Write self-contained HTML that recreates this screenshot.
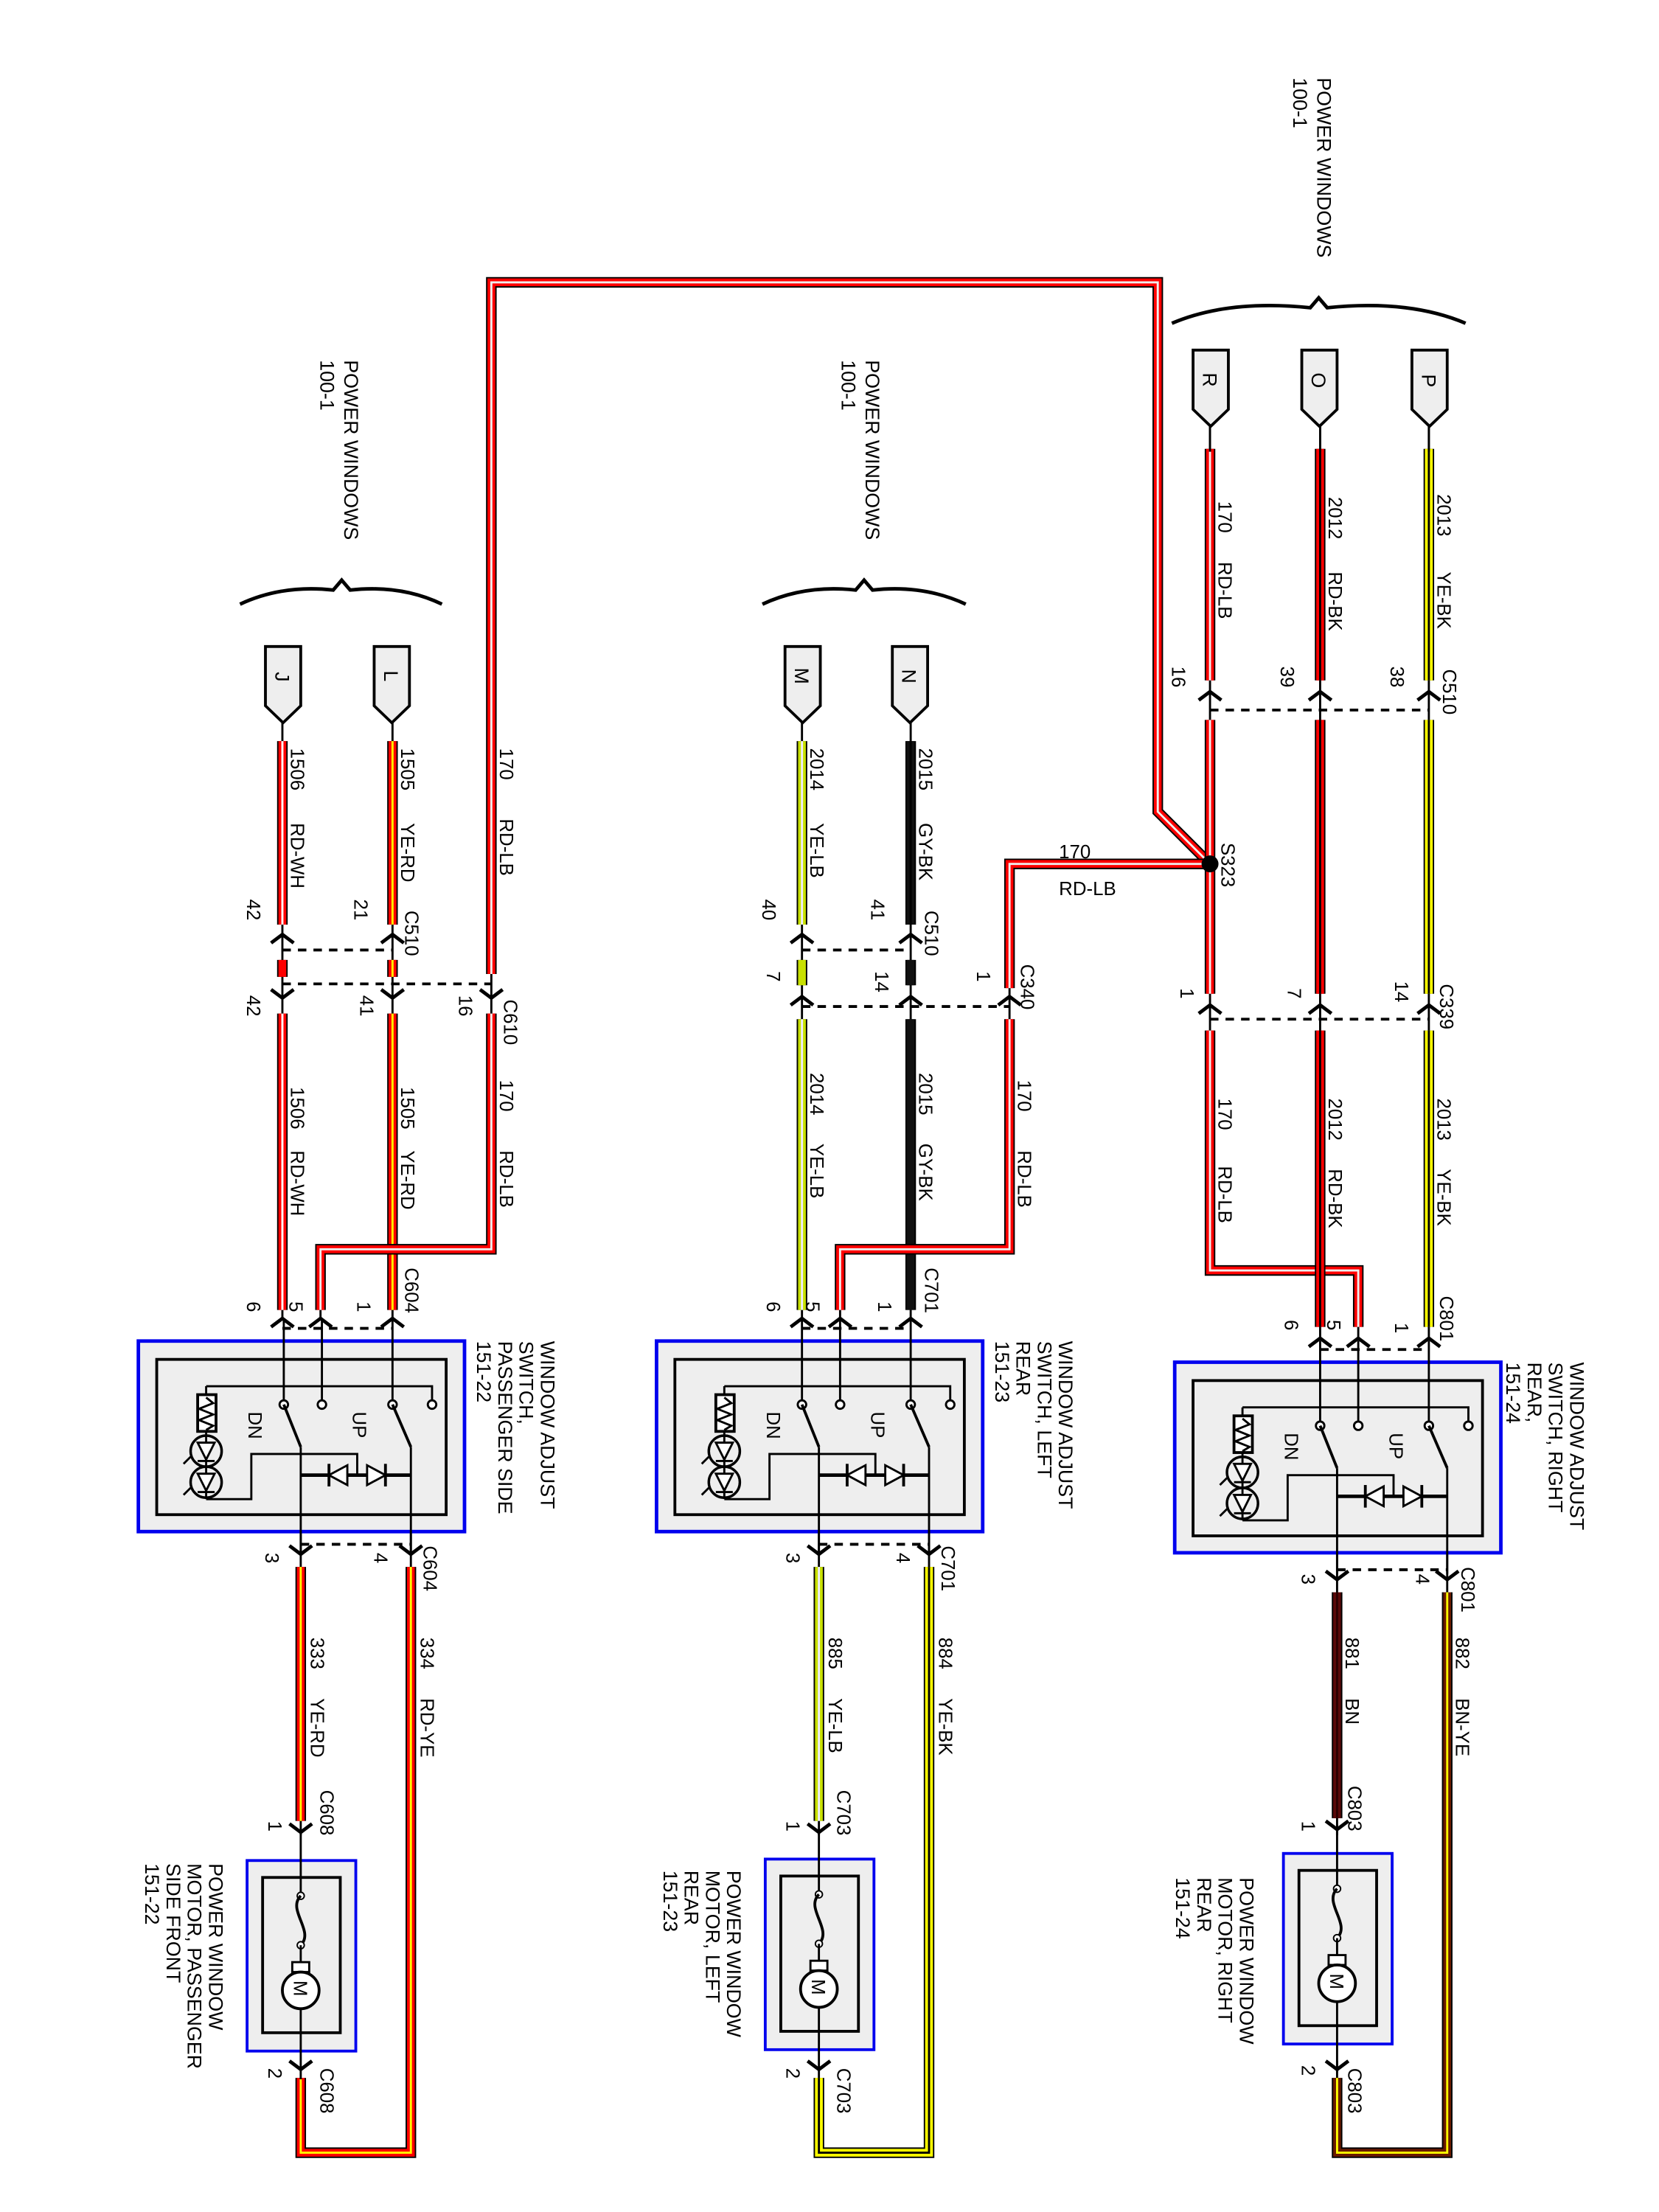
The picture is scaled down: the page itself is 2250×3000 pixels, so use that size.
<!DOCTYPE html>
<html><head><meta charset="utf-8">
<style>
html,body{margin:0;padding:0;background:#fff;}
svg{display:block;}
text{font-family:"Liberation Sans",Arial,sans-serif;font-size:13.5px;fill:#000;}
.k{stroke:#000;stroke-width:7.5;fill:none;stroke-linejoin:miter;}
.c{stroke-width:5.5;fill:none;}
.s{stroke-width:1.5;fill:none;}
.t{stroke:#000;stroke-width:1.5;fill:none;}
.d{stroke:#000;stroke-width:2;stroke-dasharray:6,5;fill:none;}
.ch{stroke:#000;stroke-width:2.5;fill:none;}
</style></head><body>
<svg width="2250" height="3000" viewBox="0 0 1175 1567" preserveAspectRatio="none" xmlns="http://www.w3.org/2000/svg">
<defs>
<g id="sw">
  <rect x="0" y="0" width="231" height="135" fill="#eee" stroke="#0000ee" stroke-width="2.5"/>
  <rect x="13" y="13" width="205" height="110" fill="none" stroke="#000" stroke-width="2"/>
  <line x1="103" y1="-15" x2="103" y2="45" class="t"/>
  <line x1="130" y1="-15" x2="130" y2="45" class="t"/>
  <line x1="180" y1="-15" x2="180" y2="45" class="t"/>
  <polyline points="48,32 208,32 208,45" class="t" stroke-width="2.5"/>
  <circle cx="103" cy="45" r="3" fill="#fff" stroke="#000" stroke-width="1.5"/>
  <circle cx="130" cy="45" r="3" fill="#fff" stroke="#000" stroke-width="1.5"/>
  <circle cx="180" cy="45" r="3" fill="#fff" stroke="#000" stroke-width="1.5"/>
  <circle cx="208" cy="45" r="3" fill="#fff" stroke="#000" stroke-width="1.5"/>
  <line x1="103" y1="45" x2="115" y2="75" stroke="#000" stroke-width="2"/>
  <line x1="180" y1="45" x2="193" y2="75" stroke="#000" stroke-width="2"/>
  <line x1="115" y1="75" x2="115" y2="150" class="t"/>
  <line x1="193" y1="75" x2="193" y2="150" class="t"/>
  <line x1="115" y1="95" x2="193" y2="95" stroke="#000" stroke-width="2.5"/>
  <polygon points="135,95 148,88 148,102" fill="#fff" stroke="#000" stroke-width="1.5"/>
  <line x1="135" y1="87" x2="135" y2="103" stroke="#000" stroke-width="2"/>
  <polygon points="175,95 162,88 162,102" fill="#fff" stroke="#000" stroke-width="1.5"/>
  <line x1="175" y1="87" x2="175" y2="103" stroke="#000" stroke-width="2"/>
  <polyline points="155,95 155,80 80,80 80,112 48,112" class="t"/>
  <line x1="48" y1="32" x2="48" y2="112" class="t"/>
  <rect x="42" y="38" width="13" height="26" fill="#fff" stroke="#000" stroke-width="2"/>
  <polyline points="48,40 53,44 43,48 53,52 43,56 53,60 48,63" stroke="#000" stroke-width="1.5" fill="none"/>
  <circle cx="48" cy="78" r="11" fill="none" stroke="#000" stroke-width="1.8"/>
  <polygon points="42,72 54,72 48,84" fill="#fff" stroke="#000" stroke-width="1.5"/>
  <line x1="42" y1="85" x2="54" y2="85" stroke="#000" stroke-width="1.5"/>
  <circle cx="48" cy="100" r="11" fill="none" stroke="#000" stroke-width="1.8"/>
  <polygon points="42,94 54,94 48,106" fill="#fff" stroke="#000" stroke-width="1.5"/>
  <line x1="42" y1="107" x2="54" y2="107" stroke="#000" stroke-width="1.5"/>
  <line x1="37" y1="82" x2="32" y2="87" stroke="#000" stroke-width="1.5"/>
  <line x1="37" y1="104" x2="32" y2="109" stroke="#000" stroke-width="1.5"/>
  <text transform="translate(78,50) rotate(90)">DN</text>
  <text transform="translate(152,50) rotate(90)">UP</text>
</g>
<g id="mo">
  <rect x="0" y="0" width="77" height="135" fill="#eee" stroke="#0000ee" stroke-width="2"/>
  <rect x="11" y="12" width="55" height="110" fill="none" stroke="#000" stroke-width="2"/>
  <line x1="38" y1="-20" x2="38" y2="25" class="t"/>
  <circle cx="38" cy="25" r="2.5" fill="#fff" stroke="#000"/>
  <path d="M38,25 C28,35 48,50 38,60" stroke="#000" stroke-width="2" fill="none"/>
  <circle cx="38" cy="60" r="2.5" fill="#fff" stroke="#000"/>
  <line x1="38" y1="60" x2="38" y2="74" class="t"/>
  <rect x="32" y="72" width="12" height="7" fill="#fff" stroke="#000" stroke-width="1.5"/>
  <circle cx="38" cy="92" r="13" fill="#fff" stroke="#000" stroke-width="2"/>
  <line x1="38" y1="105" x2="38" y2="155" class="t"/>
  <text transform="translate(33,85) rotate(90)" font-size="14">M</text>
</g>
</defs>

<!-- thin conductor lines -->
<g class="t">
<line x1="857" y1="302" x2="857" y2="735"/>
<line x1="935" y1="302" x2="935" y2="950"/>
<line x1="1012" y1="302" x2="1012" y2="950"/>
<line x1="962" y1="925" x2="962" y2="950"/>
<line x1="947" y1="1100" x2="947" y2="1300"/>
<line x1="1025" y1="1100" x2="1025" y2="1130"/>
<line x1="947" y1="1460" x2="947" y2="1475"/>
<line x1="568" y1="510" x2="568" y2="935"/>
<line x1="645" y1="510" x2="645" y2="935"/>
<line x1="715" y1="690" x2="715" y2="725"/>
<line x1="595" y1="920" x2="595" y2="935"/>
<line x1="580" y1="1085" x2="580" y2="1300"/>
<line x1="658" y1="1085" x2="658" y2="1115"/>
<line x1="200" y1="510" x2="200" y2="935"/>
<line x1="278" y1="510" x2="278" y2="935"/>
<line x1="348" y1="685" x2="348" y2="725"/>
<line x1="227" y1="920" x2="227" y2="935"/>
<line x1="213" y1="1085" x2="213" y2="1300"/>
<line x1="291" y1="1085" x2="291" y2="1115"/>
</g>

<!-- wires -->
<!-- big 170 -->
<polyline class="k" points="857,612 820,575 820,200 348,200 348,690"/>
<polyline class="c" stroke="#f00" points="857,612 820,575 820,200 348,200 348,690"/>
<polyline class="s" stroke="#eee" points="857,612 820,575 820,200 348,200 348,690"/>
<polyline class="k" points="857,612 715,612 715,700"/>
<polyline class="c" stroke="#f00" points="857,612 715,612 715,700"/>
<polyline class="s" stroke="#eee" points="857,612 715,612 715,700"/>

<!-- right column -->
<g>
<polyline class="k" points="857,318 857,482"/><polyline class="c" stroke="#f00" points="857,318 857,482"/><polyline class="s" stroke="#eee" points="857,318 857,482"/>
<polyline class="k" points="935,318 935,482"/><polyline class="c" stroke="#f00" points="935,318 935,482"/><polyline class="s" stroke="#000" points="935,318 935,482"/>
<polyline class="k" points="1012,318 1012,482"/><polyline class="c" stroke="#ff0" points="1012,318 1012,482"/><polyline class="s" stroke="#000" points="1012,318 1012,482"/>
<polyline class="k" points="857,510 857,704"/><polyline class="c" stroke="#f00" points="857,510 857,704"/><polyline class="s" stroke="#eee" points="857,510 857,704"/>
<polyline class="k" points="935,510 935,704"/><polyline class="c" stroke="#f00" points="935,510 935,704"/><polyline class="s" stroke="#000" points="935,510 935,704"/>
<polyline class="k" points="1012,510 1012,704"/><polyline class="c" stroke="#ff0" points="1012,510 1012,704"/><polyline class="s" stroke="#000" points="1012,510 1012,704"/>
<polyline class="k" points="857,730 857,900 962,900 962,940"/><polyline class="c" stroke="#f00" points="857,730 857,900 962,900 962,940"/><polyline class="s" stroke="#eee" points="857,730 857,900 962,900 962,940"/>
<polyline class="k" points="935,730 935,940"/><polyline class="c" stroke="#f00" points="935,730 935,940"/><polyline class="s" stroke="#000" points="935,730 935,940"/>
<polyline class="k" points="1012,730 1012,940"/><polyline class="c" stroke="#ff0" points="1012,730 1012,940"/><polyline class="s" stroke="#000" points="1012,730 1012,940"/>
<polyline class="k" points="947,1128 947,1288"/><polyline class="c" stroke="#5a0808" points="947,1128 947,1288"/><polyline class="s" stroke="#2a0000" points="947,1128 947,1288"/>
<polyline class="k" points="1025,1128 1025,1525 947,1525 947,1472"/><polyline class="c" stroke="#6a1a00" points="1025,1128 1025,1525 947,1525 947,1472"/><polyline class="s" stroke="#ff0" points="1025,1128 1025,1525 947,1525 947,1472"/>
</g>

<!-- middle column -->
<g>
<polyline class="k" points="568,525 568,655"/><polyline class="c" stroke="#c8e000" points="568,525 568,655"/><polyline class="s" stroke="#eef" points="568,525 568,655"/>
<polyline class="k" points="645,525 645,655"/><polyline class="c" stroke="#111" points="645,525 645,655"/><polyline class="s" stroke="#000" points="645,525 645,655"/>
<polyline class="k" points="568,680 568,698"/><polyline class="c" stroke="#c8e000" points="568,680 568,698"/>
<polyline class="k" points="645,680 645,698"/><polyline class="c" stroke="#111" points="645,680 645,698"/>
<polyline class="k" points="568,722 568,928"/><polyline class="c" stroke="#c8e000" points="568,722 568,928"/><polyline class="s" stroke="#eef" points="568,722 568,928"/>
<polyline class="k" points="645,722 645,928"/><polyline class="c" stroke="#111" points="645,722 645,928"/>
<polyline class="k" points="715,722 715,885 595,885 595,928"/><polyline class="c" stroke="#f00" points="715,722 715,885 595,885 595,928"/><polyline class="s" stroke="#eee" points="715,722 715,885 595,885 595,928"/>
<polyline class="k" points="580,1110 580,1290"/><polyline class="c" stroke="#c8e000" points="580,1110 580,1290"/><polyline class="s" stroke="#eef" points="580,1110 580,1290"/>
<polyline class="k" points="658,1110 658,1525 580,1525 580,1472"/><polyline class="c" stroke="#ff0" points="658,1110 658,1525 580,1525 580,1472"/><polyline class="s" stroke="#000" points="658,1110 658,1525 580,1525 580,1472"/>
</g>

<!-- left column -->
<g>
<polyline class="k" points="200,525 200,655"/><polyline class="c" stroke="#f00" points="200,525 200,655"/><polyline class="s" stroke="#fff" points="200,525 200,655"/>
<polyline class="k" points="278,525 278,655"/><polyline class="c" stroke="#f00" points="278,525 278,655"/><polyline class="s" stroke="#ff0" stroke-width="3" points="278,525 278,655"/>
<polyline class="k" points="200,680 200,692"/><polyline class="c" stroke="#f00" points="200,680 200,692"/>
<polyline class="k" points="278,680 278,692"/><polyline class="c" stroke="#f00" points="278,680 278,692"/><polyline class="s" stroke="#ff0" stroke-width="3" points="278,680 278,692"/>
<polyline class="k" points="200,718 200,928"/><polyline class="c" stroke="#f00" points="200,718 200,928"/><polyline class="s" stroke="#fff" points="200,718 200,928"/>
<polyline class="k" points="278,718 278,928"/><polyline class="c" stroke="#f00" points="278,718 278,928"/><polyline class="s" stroke="#ff0" stroke-width="3" points="278,718 278,928"/>
<polyline class="k" points="348,718 348,885 227,885 227,928"/><polyline class="c" stroke="#f00" points="348,718 348,885 227,885 227,928"/><polyline class="s" stroke="#eee" points="348,718 348,885 227,885 227,928"/>
<polyline class="k" points="213,1110 213,1290"/><polyline class="c" stroke="#f00" points="213,1110 213,1290"/><polyline class="s" stroke="#ff0" stroke-width="3" points="213,1110 213,1290"/>
<polyline class="k" points="291,1110 291,1525 213,1525 213,1472"/><polyline class="c" stroke="#f00" points="291,1110 291,1525 213,1525 213,1472"/><polyline class="s" stroke="#ff0" points="291,1110 291,1525 213,1525 213,1472"/>
</g>

<circle cx="857" cy="612" r="6" fill="#000"/>

<!-- switch and motor boxes -->
<use href="#sw" x="832" y="965"/>
<use href="#sw" x="465" y="950"/>
<use href="#sw" x="98" y="950"/>
<use href="#mo" x="909" y="1313"/>
<use href="#mo" x="542" y="1317"/>
<use href="#mo" x="175" y="1318"/>

<!-- dashed connector lines -->
<g class="d">
<line x1="857" y1="503" x2="1012" y2="503"/>
<line x1="857" y1="722" x2="1012" y2="722"/>
<line x1="935" y1="956" x2="1012" y2="956"/>
<line x1="947" y1="1112" x2="1025" y2="1112"/>
<line x1="568" y1="673" x2="645" y2="673"/>
<line x1="568" y1="713" x2="715" y2="713"/>
<line x1="568" y1="941" x2="645" y2="941"/>
<line x1="580" y1="1094" x2="658" y2="1094"/>
<line x1="200" y1="673" x2="278" y2="673"/>
<line x1="200" y1="697" x2="348" y2="697"/>
<line x1="200" y1="941" x2="278" y2="941"/>
<line x1="213" y1="1094" x2="291" y2="1094"/>
</g>

<!-- chevrons -->
<g class="ch">
<!-- up -->
<path d="M849,496 L857,490 L865,496 M927,496 L935,490 L943,496 M1004,496 L1012,490 L1020,496"/>
<path d="M849,718 L857,712 L865,718 M927,718 L935,712 L943,718 M1004,718 L1012,712 L1020,718"/>
<path d="M927,954 L935,948 L943,954 M954,954 L962,948 L970,954 M1004,954 L1012,948 L1020,954"/>
<path d="M560,668 L568,662 L576,668 M637,668 L645,662 L653,668"/>
<path d="M560,712 L568,706 L576,712 M637,712 L645,706 L653,712 M707,712 L715,706 L723,712"/>
<path d="M560,940 L568,934 L576,940 M587,940 L595,934 L603,940 M637,940 L645,934 L653,940"/>
<path d="M192,668 L200,662 L208,668 M270,668 L278,662 L286,668"/>
<path d="M192,940 L200,934 L208,940 M219,940 L227,934 L235,940 M270,940 L278,934 L286,940"/>
<!-- down -->
<path d="M192,701 L200,707 L208,701 M270,701 L278,707 L286,701 M340,701 L348,707 L356,701"/>
<path d="M939,1113 L947,1119 L955,1113 M1017,1113 L1025,1119 L1033,1113"/>
<path d="M572,1095 L580,1101 L588,1095 M650,1095 L658,1101 L666,1095"/>
<path d="M205,1095 L213,1101 L221,1095 M283,1095 L291,1101 L299,1095"/>
<path d="M939,1290 L947,1296 L955,1290 M939,1460 L947,1466 L955,1460"/>
<path d="M572,1292 L580,1298 L588,1292 M572,1460 L580,1466 L588,1460"/>
<path d="M205,1292 L213,1298 L221,1292 M205,1460 L213,1466 L221,1460"/>
</g>

<!-- pentagon connectors -->
<g fill="#eee" stroke="#000" stroke-width="2">
<path d="M845,248 H870 V290 L857.5,302 L845,290 Z"/>
<path d="M922,248 H947 V290 L934.5,302 L922,290 Z"/>
<path d="M1000,248 H1025 V290 L1012.5,302 L1000,290 Z"/>
<path d="M556,458 H581 V500 L568.5,512 L556,500 Z"/>
<path d="M632,458 H657 V500 L644.5,512 L632,500 Z"/>
<path d="M188,458 H213 V500 L200.5,512 L188,500 Z"/>
<path d="M265,458 H290 V500 L277.5,512 L265,500 Z"/>
</g>
<g class="t">
<line x1="857" y1="302" x2="857" y2="320"/><line x1="935" y1="302" x2="935" y2="320"/><line x1="1012" y1="302" x2="1012" y2="320"/>
</g>
<g font-size="14">
<text transform="translate(852,264) rotate(90)" style="font-size:14px">R</text>
<text transform="translate(929,264) rotate(90)" style="font-size:14px">O</text>
<text transform="translate(1007,265) rotate(90)" style="font-size:14px">P</text>
<text transform="translate(563,473) rotate(90)" style="font-size:14px">M</text>
<text transform="translate(639,474) rotate(90)" style="font-size:14px">N</text>
<text transform="translate(195,476) rotate(90)" style="font-size:14px">J</text>
<text transform="translate(272,475) rotate(90)" style="font-size:14px">L</text>
</g>

<!-- braces -->
<g stroke="#000" stroke-width="2.5" fill="none">
<path d="M830,229 Q870,212 928,218 L934,211 L940,218 Q998,212 1038,229"/>
<path d="M540,428 Q570,414 606,418 L612,411 L618,418 Q654,414 684,428"/>
<path d="M170,428 Q200,414 236,418 L242,411 L248,418 Q284,414 313,428"/>
</g>

<!-- text labels -->
<g style="font-size:14px">
<text transform="translate(933,55) rotate(90)" style="font-size:14px">POWER WINDOWS</text>
<text transform="translate(916,55) rotate(90)" style="font-size:14px">100-1</text>
<text transform="translate(613,255) rotate(90)" style="font-size:14px">POWER WINDOWS</text>
<text transform="translate(596,255) rotate(90)" style="font-size:14px">100-1</text>
<text transform="translate(244,255) rotate(90)" style="font-size:14px">POWER WINDOWS</text>
<text transform="translate(227,255) rotate(90)" style="font-size:14px">100-1</text>

<text transform="translate(1112,965) rotate(90)" style="font-size:14px">WINDOW ADJUST</text>
<text transform="translate(1097,965) rotate(90)" style="font-size:14px">SWITCH, RIGHT</text>
<text transform="translate(1082,965) rotate(90)" style="font-size:14px">REAR,</text>
<text transform="translate(1067,965) rotate(90)" style="font-size:14px">151-24</text>
<text transform="translate(750,950) rotate(90)" style="font-size:14px">WINDOW ADJUST</text>
<text transform="translate(735,950) rotate(90)" style="font-size:14px">SWITCH, LEFT</text>
<text transform="translate(720,950) rotate(90)" style="font-size:14px">REAR</text>
<text transform="translate(705,950) rotate(90)" style="font-size:14px">151-23</text>
<text transform="translate(383,950) rotate(90)" style="font-size:14px">WINDOW ADJUST</text>
<text transform="translate(368,950) rotate(90)" style="font-size:14px">SWITCH,</text>
<text transform="translate(353,950) rotate(90)" style="font-size:14px">PASSENGER SIDE</text>
<text transform="translate(338,950) rotate(90)" style="font-size:14px">151-22</text>

<text transform="translate(878,1330) rotate(90)" style="font-size:14px">POWER WINDOW</text>
<text transform="translate(863,1330) rotate(90)" style="font-size:14px">MOTOR, RIGHT</text>
<text transform="translate(848,1330) rotate(90)" style="font-size:14px">REAR</text>
<text transform="translate(833,1330) rotate(90)" style="font-size:14px">151-24</text>
<text transform="translate(515,1325) rotate(90)" style="font-size:14px">POWER WINDOW</text>
<text transform="translate(500,1325) rotate(90)" style="font-size:14px">MOTOR, LEFT</text>
<text transform="translate(485,1325) rotate(90)" style="font-size:14px">REAR</text>
<text transform="translate(470,1325) rotate(90)" style="font-size:14px">151-23</text>
<text transform="translate(148,1320) rotate(90)" style="font-size:14px">POWER WINDOW</text>
<text transform="translate(133,1320) rotate(90)" style="font-size:14px">MOTOR, PASSENGER</text>
<text transform="translate(118,1320) rotate(90)" style="font-size:14px">SIDE FRONT</text>
<text transform="translate(103,1320) rotate(90)" style="font-size:14px">151-22</text>
</g>

<!-- wire labels -->
<g>
<text transform="translate(863,355) rotate(90)">170</text><text transform="translate(863,398) rotate(90)">RD-LB</text>
<text transform="translate(941,352) rotate(90)">2012</text><text transform="translate(941,405) rotate(90)">RD-BK</text>
<text transform="translate(1018,350) rotate(90)">2013</text><text transform="translate(1018,405) rotate(90)">YE-BK</text>
<text transform="translate(863,778) rotate(90)">170</text><text transform="translate(863,826) rotate(90)">RD-LB</text>
<text transform="translate(941,778) rotate(90)">2012</text><text transform="translate(941,828) rotate(90)">RD-BK</text>
<text transform="translate(1018,778) rotate(90)">2013</text><text transform="translate(1018,828) rotate(90)">YE-BK</text>
<text transform="translate(953,1160) rotate(90)">881</text><text transform="translate(953,1203) rotate(90)">BN</text>
<text transform="translate(1031,1160) rotate(90)">882</text><text transform="translate(1031,1203) rotate(90)">BN-YE</text>
<text transform="translate(865,597) rotate(90)">S323</text>
<text x="750" y="608">170</text>
<text x="750" y="634">RD-LB</text>

<text transform="translate(574,530) rotate(90)">2014</text><text transform="translate(574,583) rotate(90)">YE-LB</text>
<text transform="translate(651,530) rotate(90)">2015</text><text transform="translate(651,583) rotate(90)">GY-BK</text>
<text transform="translate(574,760) rotate(90)">2014</text><text transform="translate(574,810) rotate(90)">YE-LB</text>
<text transform="translate(651,760) rotate(90)">2015</text><text transform="translate(651,810) rotate(90)">GY-BK</text>
<text transform="translate(721,765) rotate(90)">170</text><text transform="translate(721,815) rotate(90)">RD-LB</text>
<text transform="translate(587,1160) rotate(90)">885</text><text transform="translate(587,1203) rotate(90)">YE-LB</text>
<text transform="translate(665,1160) rotate(90)">884</text><text transform="translate(665,1203) rotate(90)">YE-BK</text>

<text transform="translate(206,530) rotate(90)">1506</text><text transform="translate(206,583) rotate(90)">RD-WH</text>
<text transform="translate(284,530) rotate(90)">1505</text><text transform="translate(284,583) rotate(90)">YE-RD</text>
<text transform="translate(354,530) rotate(90)">170</text><text transform="translate(354,580) rotate(90)">RD-LB</text>
<text transform="translate(206,770) rotate(90)">1506</text><text transform="translate(206,815) rotate(90)">RD-WH</text>
<text transform="translate(284,770) rotate(90)">1505</text><text transform="translate(284,815) rotate(90)">YE-RD</text>
<text transform="translate(354,765) rotate(90)">170</text><text transform="translate(354,815) rotate(90)">RD-LB</text>
<text transform="translate(220,1160) rotate(90)">333</text><text transform="translate(220,1203) rotate(90)">YE-RD</text>
<text transform="translate(298,1160) rotate(90)">334</text><text transform="translate(298,1203) rotate(90)">RD-YE</text>
</g>

<!-- pins & connector names -->
<g>
<text transform="translate(830,472) rotate(90)">16</text>
<text transform="translate(907,472) rotate(90)">39</text>
<text transform="translate(985,472) rotate(90)">38</text>
<text transform="translate(1022,474) rotate(90)">C510</text>
<text transform="translate(836,700) rotate(90)">1</text>
<text transform="translate(912,700) rotate(90)">7</text>
<text transform="translate(988,695) rotate(90)">14</text>
<text transform="translate(1020,697) rotate(90)">C339</text>
<text transform="translate(910,935) rotate(90)">6</text>
<text transform="translate(940,935) rotate(90)">5</text>
<text transform="translate(988,937) rotate(90)">1</text>
<text transform="translate(1020,918) rotate(90)">C801</text>
<text transform="translate(922,1115) rotate(90)">3</text>
<text transform="translate(1003,1115) rotate(90)">4</text>
<text transform="translate(1035,1110) rotate(90)">C801</text>
<text transform="translate(922,1290) rotate(90)">1</text>
<text transform="translate(955,1265) rotate(90)">C803</text>
<text transform="translate(922,1463) rotate(90)">2</text>
<text transform="translate(955,1465) rotate(90)">C803</text>

<text transform="translate(540,637) rotate(90)">40</text>
<text transform="translate(617,637) rotate(90)">41</text>
<text transform="translate(655,645) rotate(90)">C510</text>
<text transform="translate(543,688) rotate(90)">7</text>
<text transform="translate(620,688) rotate(90)">14</text>
<text transform="translate(692,688) rotate(90)">1</text>
<text transform="translate(723,683) rotate(90)">C340</text>
<text transform="translate(543,922) rotate(90)">6</text>
<text transform="translate(571,922) rotate(90)">5</text>
<text transform="translate(622,922) rotate(90)">1</text>
<text transform="translate(655,898) rotate(90)">C701</text>
<text transform="translate(557,1100) rotate(90)">3</text>
<text transform="translate(635,1100) rotate(90)">4</text>
<text transform="translate(667,1095) rotate(90)">C701</text>
<text transform="translate(557,1290) rotate(90)">1</text>
<text transform="translate(593,1268) rotate(90)">C703</text>
<text transform="translate(557,1465) rotate(90)">2</text>
<text transform="translate(593,1465) rotate(90)">C703</text>

<text transform="translate(175,637) rotate(90)">42</text>
<text transform="translate(251,637) rotate(90)">21</text>
<text transform="translate(287,645) rotate(90)">C510</text>
<text transform="translate(175,705) rotate(90)">42</text>
<text transform="translate(255,705) rotate(90)">41</text>
<text transform="translate(325,705) rotate(90)">16</text>
<text transform="translate(357,708) rotate(90)">C610</text>
<text transform="translate(175,922) rotate(90)">6</text>
<text transform="translate(205,922) rotate(90)">5</text>
<text transform="translate(253,922) rotate(90)">1</text>
<text transform="translate(287,898) rotate(90)">C604</text>
<text transform="translate(188,1100) rotate(90)">3</text>
<text transform="translate(265,1100) rotate(90)">4</text>
<text transform="translate(300,1095) rotate(90)">C604</text>
<text transform="translate(190,1290) rotate(90)">1</text>
<text transform="translate(227,1268) rotate(90)">C608</text>
<text transform="translate(190,1465) rotate(90)">2</text>
<text transform="translate(227,1465) rotate(90)">C608</text>
</g>
</svg>
</body></html>
